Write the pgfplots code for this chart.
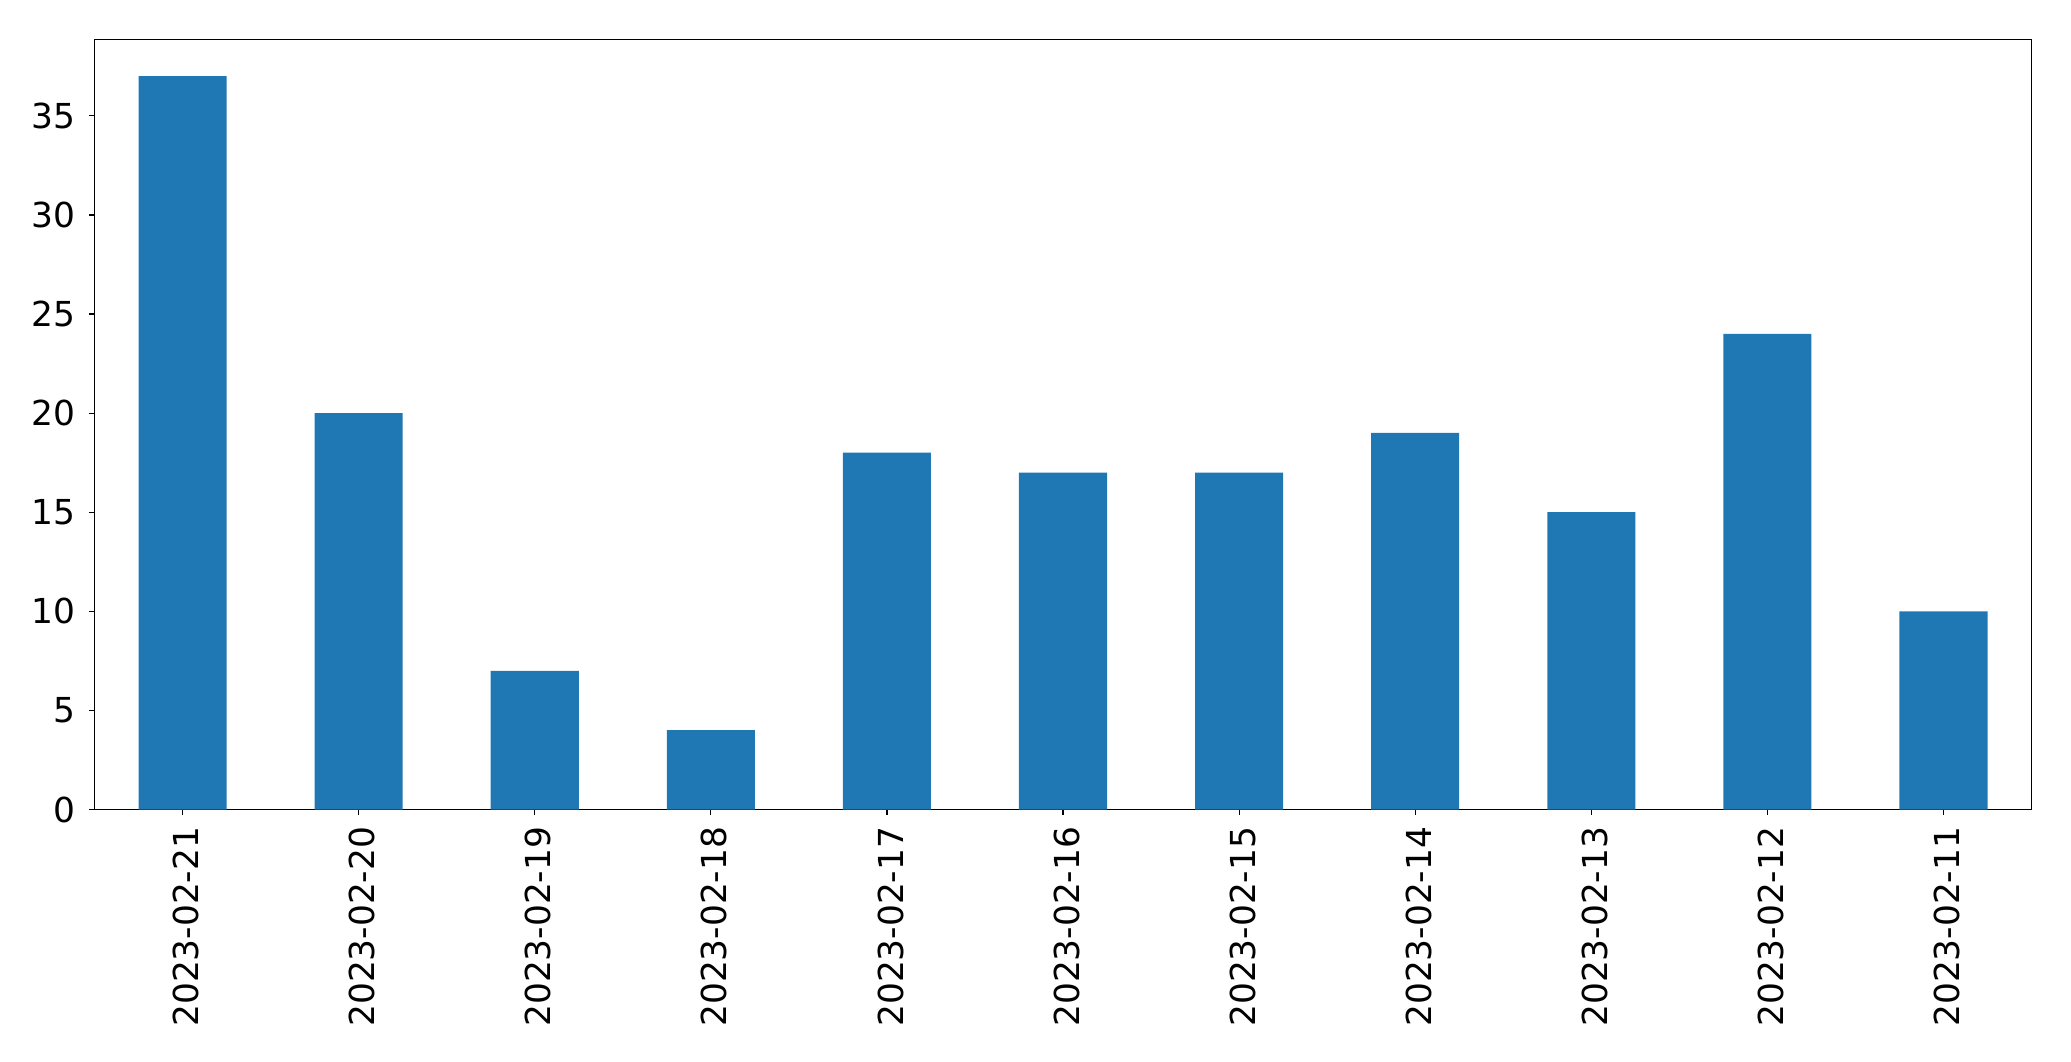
\documentclass[border=0pt]{standalone}
\usepackage{fontspec}
\setmainfont{DejaVu Sans}
\usepackage{pgfplots}
\pgfplotsset{compat=1.18}
\definecolor{mplblue}{HTML}{1F77B4}
\begin{document}
\fontsize{17.2}{21}\selectfont
\begin{tikzpicture}
\useasboundingbox (-47.25pt,-125.85pt) rectangle (988.25pt,404.75pt);
\begin{axis}[
  at={(0pt,0pt)}, anchor=south west,
  scale only axis, width=968.5pt, height=385pt,
  xmin=-0.5, xmax=10.5, ymin=0, ymax=38.85,
  xtick=data,
  xticklabels={2023-02-21,2023-02-20,2023-02-19,2023-02-18,2023-02-17,2023-02-16,2023-02-15,2023-02-14,2023-02-13,2023-02-12,2023-02-11},
  ytick={0,5,10,15,20,25,30,35},
  tick align=outside, major tick length=2.7pt,
  tick style={black, line width=0.6pt},
  axis line style={black, line width=0.6pt},
  xtick pos=bottom, ytick pos=left,
  /pgf/number format/assume math mode=true,
  tick label style={font=\fontsize{17.2}{21}\selectfont},
  yticklabel style={xshift=-0.8pt},
  xticklabel style={rotate=90, anchor=east, yshift=-1.8pt},
]
\addplot[ybar, bar width=0.5, fill=mplblue, draw=none] coordinates {
(0,37) (1,20) (2,7) (3,4) (4,18) (5,17) (6,17) (7,19) (8,15) (9,24) (10,10)
};
\end{axis}
\end{tikzpicture}
\end{document}
